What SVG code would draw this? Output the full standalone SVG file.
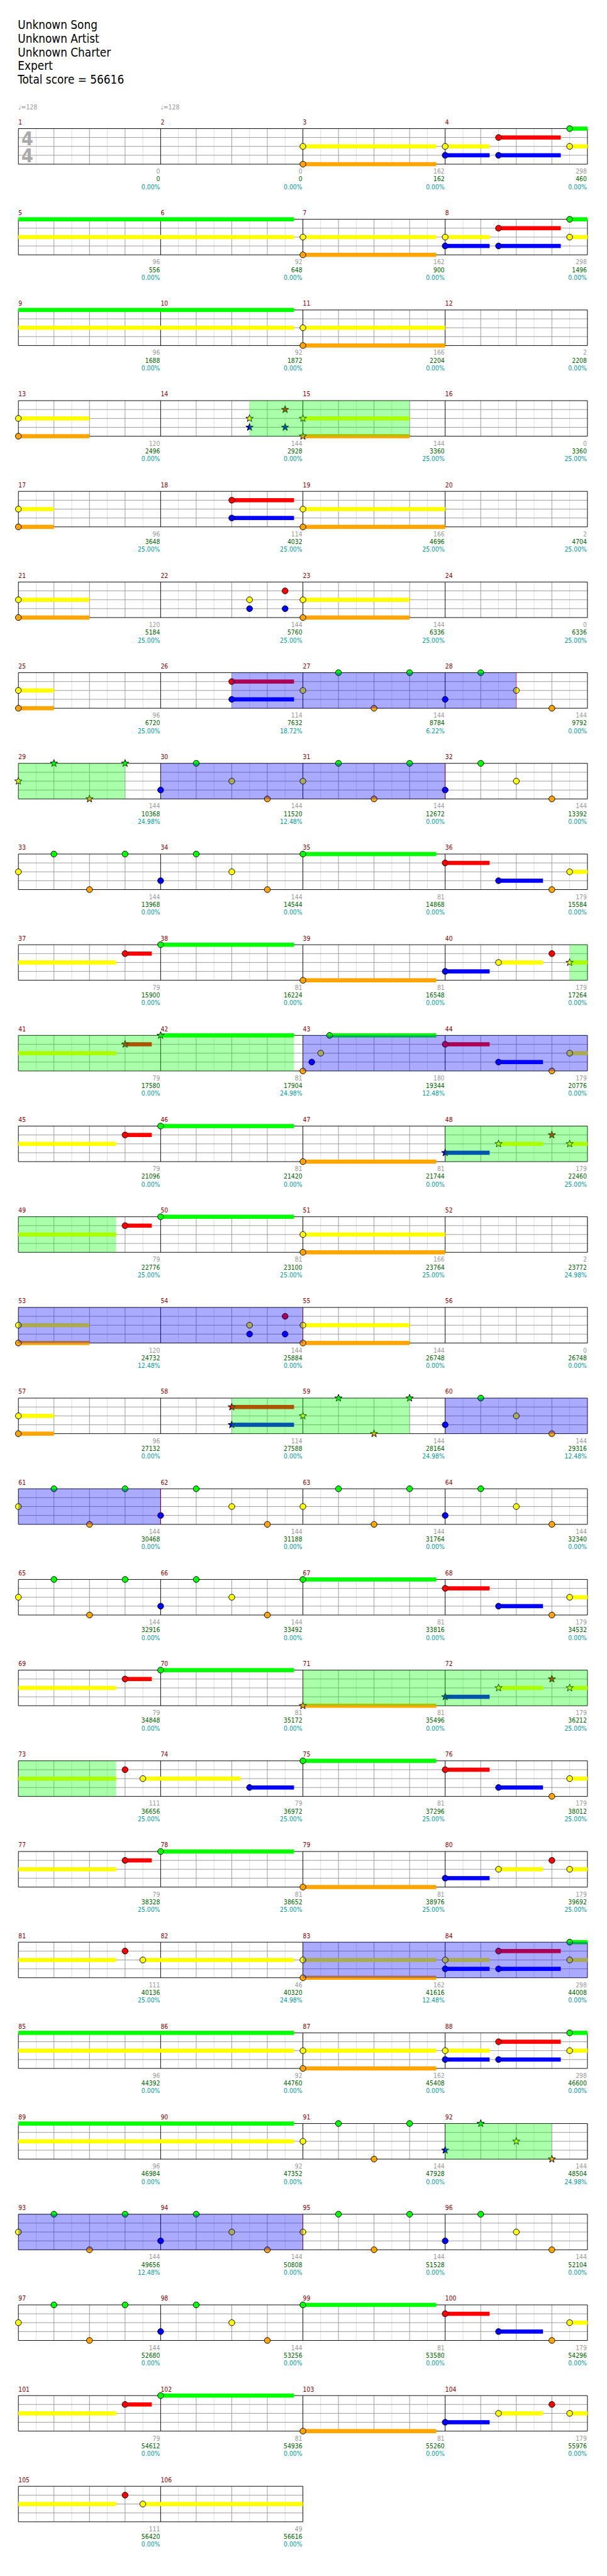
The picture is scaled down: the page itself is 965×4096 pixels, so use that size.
<svg xmlns="http://www.w3.org/2000/svg" width="965" height="4096" viewBox="0 0 965 4096">
<style>
text{font-family:"DejaVu Sans","Noto Sans",sans-serif;font-stretch:condensed}
.h{font-size:20px;fill:#000}
.tp{font-size:11px;fill:#999}
.ts{font-size:32px;font-weight:bold;fill:#aaa}
.mn{font-size:11px;fill:#8b0000}
.a,.b,.c{font-size:11px;text-anchor:end}
.a{fill:#999}.b{fill:#006400}.c{fill:#009999}
.sG{fill:#00ff00}.sR{fill:#ff0000}.sY{fill:#ffff00}.sB{fill:#0000ff}.sO{fill:#ffa500}
.sp{fill:#00ff00;fill-opacity:.333}
.ac{fill:#0000ff;fill-opacity:.333}
.ae{stroke:#ff0000;stroke-opacity:.4;fill:none}
.n{stroke:#000;stroke-width:1}
</style>
<defs>
<circle id="G" class="n" r="5" fill="#00ff00"/>
<circle id="R" class="n" r="5" fill="#ff0000"/>
<circle id="Y" class="n" r="5" fill="#ffff00"/>
<circle id="B" class="n" r="5" fill="#0000ff"/>
<circle id="O" class="n" r="5" fill="#ffa500"/>
<polygon id="xG" class="n" fill="#00ff00" points="0,-6.5 1.53,-2.1 6.18,-2 2.47,0.8 3.82,5.26 0,2.6 -3.82,5.26 -2.47,0.8 -6.18,-2 -1.53,-2.1"/>
<polygon id="xR" class="n" fill="#ff0000" points="0,-6.5 1.53,-2.1 6.18,-2 2.47,0.8 3.82,5.26 0,2.6 -3.82,5.26 -2.47,0.8 -6.18,-2 -1.53,-2.1"/>
<polygon id="xY" class="n" fill="#ffff00" points="0,-6.5 1.53,-2.1 6.18,-2 2.47,0.8 3.82,5.26 0,2.6 -3.82,5.26 -2.47,0.8 -6.18,-2 -1.53,-2.1"/>
<polygon id="xB" class="n" fill="#0000ff" points="0,-6.5 1.53,-2.1 6.18,-2 2.47,0.8 3.82,5.26 0,2.6 -3.82,5.26 -2.47,0.8 -6.18,-2 -1.53,-2.1"/>
<polygon id="xO" class="n" fill="#ffa500" points="0,-6.5 1.53,-2.1 6.18,-2 2.47,0.8 3.82,5.26 0,2.6 -3.82,5.26 -2.47,0.8 -6.18,-2 -1.53,-2.1"/>
<g id="mg" fill="none">
<path d="M30 0V60M90 0V60M150 0V60M210 0V60" stroke="#dddddd"/>
<path d="M60 0V60M120 0V60M180 0V60M0 15H240M0 30H240M0 45H240" stroke="#999999"/>
</g>
<g id="g4">
<use href="#mg"/><use href="#mg" x="240"/><use href="#mg" x="480"/><use href="#mg" x="720"/>
<path d="M0 0V60M240 0V60M480 0V60M720 0V60M960 0V60M0 0H960M0 60H960" stroke="#000" fill="none"/>
</g>
<g id="g2">
<use href="#mg"/><use href="#mg" x="240"/>
<path d="M0 0V60M240 0V60M480 0V60M0 0H480M0 60H480" stroke="#000" fill="none"/>
</g>
<g id="pA"><use href="#Y" y="30"/><use href="#G" x="60"/><use href="#O" x="120" y="60"/><use href="#G" x="180"/></g>
<g id="pB"><use href="#B" y="45"/><use href="#G" x="60"/><use href="#Y" x="120" y="30"/><use href="#O" x="180" y="60"/></g>
<g id="rA">
<rect class="sY" x="0" y="26.5" width="225" height="7"/>
<rect class="sO" x="0" y="56.5" width="225" height="7"/>
<rect class="sY" x="240" y="26.5" width="75" height="7"/>
<rect class="sB" x="240" y="41.5" width="75" height="7"/>
<rect class="sR" x="330" y="11.5" width="105" height="7"/>
<rect class="sB" x="330" y="41.5" width="105" height="7"/>
<rect class="sG" x="450" y="-3.5" width="30" height="7"/>
<rect class="sY" x="450" y="26.5" width="30" height="7"/>
<use href="#Y" y="30"/><use href="#O" y="60"/>
<use href="#Y" x="240" y="30"/><use href="#B" x="240" y="45"/>
<use href="#R" x="330" y="15"/><use href="#B" x="330" y="45"/>
<use href="#G" x="450"/><use href="#Y" x="450" y="30"/>
</g>
<g id="rB">
<rect class="sG" x="0" y="-3.5" width="225" height="7"/>
<rect class="sR" x="240" y="11.5" width="75" height="7"/>
<rect class="sB" x="330" y="41.5" width="75" height="7"/>
<rect class="sY" x="450" y="26.5" width="30" height="7"/>
<use href="#G"/><use href="#R" x="240" y="15"/><use href="#B" x="330" y="45"/><use href="#O" x="420" y="60"/><use href="#Y" x="450" y="30"/>
</g>
<g id="rC">
<rect class="sY" x="0" y="26.5" width="165" height="7"/>
<rect class="sR" x="180" y="11.5" width="45" height="7"/>
<rect class="sG" x="240" y="-3.5" width="225" height="7"/>
<rect class="sO" x="480" y="56.5" width="225" height="7"/>
<rect class="sB" x="720" y="41.5" width="75" height="7"/>
<rect class="sY" x="810" y="26.5" width="75" height="7"/>
<rect class="sY" x="930" y="26.5" width="30" height="7"/>
<use href="#R" x="180" y="15"/><use href="#G" x="240"/><use href="#O" x="480" y="60"/><use href="#B" x="720" y="45"/><use href="#Y" x="810" y="30"/><use href="#R" x="900" y="15"/><use href="#Y" x="930" y="30"/>
</g>
</defs>
<rect width="965" height="4096" fill="#fff"/>
<g transform="scale(0.942383)">
<g id="header">
<text class="h" x="30" y="49">Unknown Song</text>
<text class="h" x="30" y="72">Unknown Artist</text>
<text class="h" x="30" y="95">Unknown Charter</text>
<text class="h" x="30" y="118">Expert</text>
<text class="h" x="30" y="141">Total score = 56616</text>
</g>

<g id="row1" transform="translate(31,217)">
<use href="#g4"/>
<text class="ts" x="5" y="28">4</text><text class="ts" x="5" y="57">4</text>
<use href="#rA" x="480"/>
<text class="tp" x="0" y="-32">♩=128</text><text class="tp" x="240" y="-32">♩=128</text>
<text class="mn" x="0" y="-7">1</text><text class="mn" x="240" y="-7">2</text><text class="mn" x="480" y="-7">3</text><text class="mn" x="720" y="-7">4</text>
<text class="a" x="239" y="76">0</text><text class="b" x="239" y="89">0</text><text class="c" x="239" y="102">0.00%</text>
<text class="a" x="479" y="76">0</text><text class="b" x="479" y="89">0</text><text class="c" x="479" y="102">0.00%</text>
<text class="a" x="719" y="76">162</text><text class="b" x="719" y="89">162</text><text class="c" x="719" y="102">0.00%</text>
<text class="a" x="959" y="76">298</text><text class="b" x="959" y="89">460</text><text class="c" x="959" y="102">0.00%</text>
</g>

<g id="row2" transform="translate(31,370)">
<use href="#g4"/>
<rect class="sG" x="0" y="-3.5" width="465" height="7"/>
<rect class="sY" x="0" y="26.5" width="465" height="7"/>
<use href="#rA" x="480"/>
<text class="mn" x="0" y="-7">5</text><text class="mn" x="240" y="-7">6</text><text class="mn" x="480" y="-7">7</text><text class="mn" x="720" y="-7">8</text>
<text class="a" x="239" y="76">96</text><text class="b" x="239" y="89">556</text><text class="c" x="239" y="102">0.00%</text>
<text class="a" x="479" y="76">92</text><text class="b" x="479" y="89">648</text><text class="c" x="479" y="102">0.00%</text>
<text class="a" x="719" y="76">162</text><text class="b" x="719" y="89">900</text><text class="c" x="719" y="102">0.00%</text>
<text class="a" x="959" y="76">298</text><text class="b" x="959" y="89">1496</text><text class="c" x="959" y="102">0.00%</text>
</g>

<g id="row3" transform="translate(31,523)">
<use href="#g4"/>
<rect class="sG" x="0" y="-3.5" width="465" height="7"/>
<rect class="sY" x="0" y="26.5" width="465" height="7"/>
<rect class="sY" x="480" y="26.5" width="240" height="7"/>
<rect class="sO" x="480" y="56.5" width="240" height="7"/>
<use href="#Y" x="480" y="30"/><use href="#O" x="480" y="60"/>
<text class="mn" x="0" y="-7">9</text><text class="mn" x="240" y="-7">10</text><text class="mn" x="480" y="-7">11</text><text class="mn" x="720" y="-7">12</text>
<text class="a" x="239" y="76">96</text><text class="b" x="239" y="89">1688</text><text class="c" x="239" y="102">0.00%</text>
<text class="a" x="479" y="76">92</text><text class="b" x="479" y="89">1872</text><text class="c" x="479" y="102">0.00%</text>
<text class="a" x="719" y="76">166</text><text class="b" x="719" y="89">2204</text><text class="c" x="719" y="102">0.00%</text>
<text class="a" x="959" y="76">2</text><text class="b" x="959" y="89">2208</text><text class="c" x="959" y="102">0.00%</text>
</g>

<g id="row4" transform="translate(31,676)">
<use href="#g4"/>
<rect class="sY" x="0" y="26.5" width="120" height="7"/>
<rect class="sO" x="0" y="56.5" width="120" height="7"/>
<rect class="sY" x="480" y="26.5" width="180" height="7"/>
<rect class="sO" x="480" y="56.5" width="180" height="7"/>
<use href="#Y" y="30"/><use href="#O" y="60"/>
<use href="#xY" x="390" y="30"/><use href="#xB" x="390" y="45"/><use href="#xR" x="450" y="15"/><use href="#xB" x="450" y="45"/>
<use href="#xY" x="480" y="30"/><use href="#xO" x="480" y="60"/>
<rect class="sp" x="390" y="0" width="270" height="60"/>
<text class="mn" x="0" y="-7">13</text><text class="mn" x="240" y="-7">14</text><text class="mn" x="480" y="-7">15</text><text class="mn" x="720" y="-7">16</text>
<text class="a" x="239" y="76">120</text><text class="b" x="239" y="89">2496</text><text class="c" x="239" y="102">0.00%</text>
<text class="a" x="479" y="76">144</text><text class="b" x="479" y="89">2928</text><text class="c" x="479" y="102">0.00%</text>
<text class="a" x="719" y="76">144</text><text class="b" x="719" y="89">3360</text><text class="c" x="719" y="102">25.00%</text>
<text class="a" x="959" y="76">0</text><text class="b" x="959" y="89">3360</text><text class="c" x="959" y="102">25.00%</text>
</g>

<g id="row5" transform="translate(31,829)">
<use href="#g4"/>
<rect class="sY" x="0" y="26.5" width="60" height="7"/>
<rect class="sO" x="0" y="56.5" width="60" height="7"/>
<rect class="sR" x="360" y="11.5" width="105" height="7"/>
<rect class="sB" x="360" y="41.5" width="105" height="7"/>
<rect class="sY" x="480" y="26.5" width="240" height="7"/>
<rect class="sO" x="480" y="56.5" width="240" height="7"/>
<use href="#Y" y="30"/><use href="#O" y="60"/><use href="#R" x="360" y="15"/><use href="#B" x="360" y="45"/><use href="#Y" x="480" y="30"/><use href="#O" x="480" y="60"/>
<text class="mn" x="0" y="-7">17</text><text class="mn" x="240" y="-7">18</text><text class="mn" x="480" y="-7">19</text><text class="mn" x="720" y="-7">20</text>
<text class="a" x="239" y="76">96</text><text class="b" x="239" y="89">3648</text><text class="c" x="239" y="102">25.00%</text>
<text class="a" x="479" y="76">114</text><text class="b" x="479" y="89">4032</text><text class="c" x="479" y="102">25.00%</text>
<text class="a" x="719" y="76">166</text><text class="b" x="719" y="89">4696</text><text class="c" x="719" y="102">25.00%</text>
<text class="a" x="959" y="76">2</text><text class="b" x="959" y="89">4704</text><text class="c" x="959" y="102">25.00%</text>
</g>

<g id="row6" transform="translate(31,982)">
<use href="#g4"/>
<rect class="sY" x="0" y="26.5" width="120" height="7"/>
<rect class="sO" x="0" y="56.5" width="120" height="7"/>
<rect class="sY" x="480" y="26.5" width="180" height="7"/>
<rect class="sO" x="480" y="56.5" width="180" height="7"/>
<use href="#Y" y="30"/><use href="#O" y="60"/>
<use href="#Y" x="390" y="30"/><use href="#B" x="390" y="45"/><use href="#R" x="450" y="15"/><use href="#B" x="450" y="45"/>
<use href="#Y" x="480" y="30"/><use href="#O" x="480" y="60"/>
<text class="mn" x="0" y="-7">21</text><text class="mn" x="240" y="-7">22</text><text class="mn" x="480" y="-7">23</text><text class="mn" x="720" y="-7">24</text>
<text class="a" x="239" y="76">120</text><text class="b" x="239" y="89">5184</text><text class="c" x="239" y="102">25.00%</text>
<text class="a" x="479" y="76">144</text><text class="b" x="479" y="89">5760</text><text class="c" x="479" y="102">25.00%</text>
<text class="a" x="719" y="76">144</text><text class="b" x="719" y="89">6336</text><text class="c" x="719" y="102">25.00%</text>
<text class="a" x="959" y="76">0</text><text class="b" x="959" y="89">6336</text><text class="c" x="959" y="102">25.00%</text>
</g>

<g id="row7" transform="translate(31,1135)">
<use href="#g4"/>
<rect class="sY" x="0" y="26.5" width="60" height="7"/>
<rect class="sO" x="0" y="56.5" width="60" height="7"/>
<rect class="sR" x="360" y="11.5" width="105" height="7"/>
<rect class="sB" x="360" y="41.5" width="105" height="7"/>
<use href="#Y" y="30"/><use href="#O" y="60"/><use href="#R" x="360" y="15"/><use href="#B" x="360" y="45"/>
<use href="#pA" x="480"/><use href="#pB" x="720"/>
<rect class="ac" x="360" y="0" width="480" height="60"/>
<path class="ae" d="M840 0V60"/>
<text class="mn" x="0" y="-7">25</text><text class="mn" x="240" y="-7">26</text><text class="mn" x="480" y="-7">27</text><text class="mn" x="720" y="-7">28</text>
<text class="a" x="239" y="76">96</text><text class="b" x="239" y="89">6720</text><text class="c" x="239" y="102">25.00%</text>
<text class="a" x="479" y="76">114</text><text class="b" x="479" y="89">7632</text><text class="c" x="479" y="102">18.72%</text>
<text class="a" x="719" y="76">144</text><text class="b" x="719" y="89">8784</text><text class="c" x="719" y="102">6.22%</text>
<text class="a" x="959" y="76">144</text><text class="b" x="959" y="89">9792</text><text class="c" x="959" y="102">0.00%</text>
</g>

<g id="row8" transform="translate(31,1288)">
<use href="#g4"/>
<use href="#xY" y="30"/><use href="#xG" x="60"/><use href="#xO" x="120" y="60"/><use href="#xG" x="180"/>
<use href="#pB" x="240"/><use href="#pA" x="480"/><use href="#pB" x="720"/>
<rect class="sp" x="0" y="0" width="180" height="60"/>
<rect class="ac" x="240" y="0" width="480" height="60"/>
<path class="ae" d="M720 0V60"/>
<text class="mn" x="0" y="-7">29</text><text class="mn" x="240" y="-7">30</text><text class="mn" x="480" y="-7">31</text><text class="mn" x="720" y="-7">32</text>
<text class="a" x="239" y="76">144</text><text class="b" x="239" y="89">10368</text><text class="c" x="239" y="102">24.98%</text>
<text class="a" x="479" y="76">144</text><text class="b" x="479" y="89">11520</text><text class="c" x="479" y="102">12.48%</text>
<text class="a" x="719" y="76">144</text><text class="b" x="719" y="89">12672</text><text class="c" x="719" y="102">0.00%</text>
<text class="a" x="959" y="76">144</text><text class="b" x="959" y="89">13392</text><text class="c" x="959" y="102">0.00%</text>
</g>

<g id="row9" transform="translate(31,1441)">
<use href="#g4"/>
<use href="#pA"/><use href="#pB" x="240"/><use href="#rB" x="480"/>
<text class="mn" x="0" y="-7">33</text><text class="mn" x="240" y="-7">34</text><text class="mn" x="480" y="-7">35</text><text class="mn" x="720" y="-7">36</text>
<text class="a" x="239" y="76">144</text><text class="b" x="239" y="89">13968</text><text class="c" x="239" y="102">0.00%</text>
<text class="a" x="479" y="76">144</text><text class="b" x="479" y="89">14544</text><text class="c" x="479" y="102">0.00%</text>
<text class="a" x="719" y="76">81</text><text class="b" x="719" y="89">14868</text><text class="c" x="719" y="102">0.00%</text>
<text class="a" x="959" y="76">179</text><text class="b" x="959" y="89">15584</text><text class="c" x="959" y="102">0.00%</text>
</g>

<g id="row10" transform="translate(31,1594)">
<use href="#g4"/>
<rect class="sY" x="0" y="26.5" width="165" height="7"/>
<rect class="sR" x="180" y="11.5" width="45" height="7"/>
<rect class="sG" x="240" y="-3.5" width="225" height="7"/>
<rect class="sO" x="480" y="56.5" width="225" height="7"/>
<rect class="sB" x="720" y="41.5" width="75" height="7"/>
<rect class="sY" x="810" y="26.5" width="75" height="7"/>
<rect class="sY" x="930" y="26.5" width="30" height="7"/>
<use href="#R" x="180" y="15"/><use href="#G" x="240"/><use href="#O" x="480" y="60"/><use href="#B" x="720" y="45"/><use href="#Y" x="810" y="30"/><use href="#R" x="900" y="15"/><use href="#xY" x="930" y="30"/>
<rect class="sp" x="930" y="0" width="30" height="60"/>
<text class="mn" x="0" y="-7">37</text><text class="mn" x="240" y="-7">38</text><text class="mn" x="480" y="-7">39</text><text class="mn" x="720" y="-7">40</text>
<text class="a" x="239" y="76">79</text><text class="b" x="239" y="89">15900</text><text class="c" x="239" y="102">0.00%</text>
<text class="a" x="479" y="76">81</text><text class="b" x="479" y="89">16224</text><text class="c" x="479" y="102">0.00%</text>
<text class="a" x="719" y="76">81</text><text class="b" x="719" y="89">16548</text><text class="c" x="719" y="102">0.00%</text>
<text class="a" x="959" y="76">179</text><text class="b" x="959" y="89">17264</text><text class="c" x="959" y="102">0.00%</text>
</g>

<g id="row11" transform="translate(31,1747)">
<use href="#g4"/>
<rect class="sY" x="0" y="26.5" width="165" height="7"/>
<rect class="sR" x="180" y="11.5" width="45" height="7"/>
<rect class="sG" x="240" y="-3.5" width="225" height="7"/>
<rect class="sG" x="525" y="-3.5" width="180" height="7"/>
<rect class="sR" x="720" y="11.5" width="75" height="7"/>
<rect class="sB" x="810" y="41.5" width="75" height="7"/>
<rect class="sY" x="930" y="26.5" width="30" height="7"/>
<use href="#xR" x="180" y="15"/><use href="#xG" x="240"/>
<use href="#O" x="480" y="60"/><use href="#B" x="495" y="45"/><use href="#Y" x="510" y="30"/><use href="#G" x="525"/>
<use href="#R" x="720" y="15"/><use href="#B" x="810" y="45"/><use href="#O" x="900" y="60"/><use href="#Y" x="930" y="30"/>
<rect class="sp" x="0" y="0" width="465" height="60"/>
<rect class="ac" x="480" y="0" width="480" height="60"/>
<text class="mn" x="0" y="-7">41</text><text class="mn" x="240" y="-7">42</text><text class="mn" x="480" y="-7">43</text><text class="mn" x="720" y="-7">44</text>
<text class="a" x="239" y="76">79</text><text class="b" x="239" y="89">17580</text><text class="c" x="239" y="102">0.00%</text>
<text class="a" x="479" y="76">81</text><text class="b" x="479" y="89">17904</text><text class="c" x="479" y="102">24.98%</text>
<text class="a" x="719" y="76">180</text><text class="b" x="719" y="89">19344</text><text class="c" x="719" y="102">12.48%</text>
<text class="a" x="959" y="76">179</text><text class="b" x="959" y="89">20776</text><text class="c" x="959" y="102">0.00%</text>
</g>

<g id="row12" transform="translate(31,1900)">
<use href="#g4"/>
<rect class="sY" x="0" y="26.5" width="165" height="7"/>
<rect class="sR" x="180" y="11.5" width="45" height="7"/>
<rect class="sG" x="240" y="-3.5" width="225" height="7"/>
<rect class="sO" x="480" y="56.5" width="225" height="7"/>
<rect class="sB" x="720" y="41.5" width="75" height="7"/>
<rect class="sY" x="810" y="26.5" width="75" height="7"/>
<rect class="sY" x="930" y="26.5" width="30" height="7"/>
<use href="#R" x="180" y="15"/><use href="#G" x="240"/><use href="#O" x="480" y="60"/>
<use href="#xB" x="720" y="45"/><use href="#xY" x="810" y="30"/><use href="#xR" x="900" y="15"/><use href="#xY" x="930" y="30"/>
<rect class="sp" x="720" y="0" width="240" height="60"/>
<text class="mn" x="0" y="-7">45</text><text class="mn" x="240" y="-7">46</text><text class="mn" x="480" y="-7">47</text><text class="mn" x="720" y="-7">48</text>
<text class="a" x="239" y="76">79</text><text class="b" x="239" y="89">21096</text><text class="c" x="239" y="102">0.00%</text>
<text class="a" x="479" y="76">81</text><text class="b" x="479" y="89">21420</text><text class="c" x="479" y="102">0.00%</text>
<text class="a" x="719" y="76">81</text><text class="b" x="719" y="89">21744</text><text class="c" x="719" y="102">0.00%</text>
<text class="a" x="959" y="76">179</text><text class="b" x="959" y="89">22460</text><text class="c" x="959" y="102">25.00%</text>
</g>

<g id="row13" transform="translate(31,2053)">
<use href="#g4"/>
<rect class="sY" x="0" y="26.5" width="165" height="7"/>
<rect class="sR" x="180" y="11.5" width="45" height="7"/>
<rect class="sG" x="240" y="-3.5" width="225" height="7"/>
<rect class="sY" x="480" y="26.5" width="240" height="7"/>
<rect class="sO" x="480" y="56.5" width="240" height="7"/>
<use href="#R" x="180" y="15"/><use href="#G" x="240"/><use href="#Y" x="480" y="30"/><use href="#O" x="480" y="60"/>
<rect class="sp" x="0" y="0" width="165" height="60"/>
<rect class="ac" x="959.5" y="0" width="1" height="60"/>
<text class="mn" x="0" y="-7">49</text><text class="mn" x="240" y="-7">50</text><text class="mn" x="480" y="-7">51</text><text class="mn" x="720" y="-7">52</text>
<text class="a" x="239" y="76">79</text><text class="b" x="239" y="89">22776</text><text class="c" x="239" y="102">25.00%</text>
<text class="a" x="479" y="76">81</text><text class="b" x="479" y="89">23100</text><text class="c" x="479" y="102">25.00%</text>
<text class="a" x="719" y="76">166</text><text class="b" x="719" y="89">23764</text><text class="c" x="719" y="102">25.00%</text>
<text class="a" x="959" y="76">2</text><text class="b" x="959" y="89">23772</text><text class="c" x="959" y="102">24.98%</text>
</g>

<g id="row14" transform="translate(31,2206)">
<use href="#g4"/>
<rect class="sY" x="0" y="26.5" width="120" height="7"/>
<rect class="sO" x="0" y="56.5" width="120" height="7"/>
<rect class="sY" x="480" y="26.5" width="180" height="7"/>
<rect class="sO" x="480" y="56.5" width="180" height="7"/>
<use href="#Y" y="30"/><use href="#O" y="60"/>
<use href="#Y" x="390" y="30"/><use href="#B" x="390" y="45"/><use href="#R" x="450" y="15"/><use href="#B" x="450" y="45"/>
<use href="#Y" x="480" y="30"/><use href="#O" x="480" y="60"/>
<rect class="ac" x="0" y="0" width="480" height="60"/>
<path class="ae" d="M480 0V60"/>
<text class="mn" x="0" y="-7">53</text><text class="mn" x="240" y="-7">54</text><text class="mn" x="480" y="-7">55</text><text class="mn" x="720" y="-7">56</text>
<text class="a" x="239" y="76">120</text><text class="b" x="239" y="89">24732</text><text class="c" x="239" y="102">12.48%</text>
<text class="a" x="479" y="76">144</text><text class="b" x="479" y="89">25884</text><text class="c" x="479" y="102">0.00%</text>
<text class="a" x="719" y="76">144</text><text class="b" x="719" y="89">26748</text><text class="c" x="719" y="102">0.00%</text>
<text class="a" x="959" y="76">0</text><text class="b" x="959" y="89">26748</text><text class="c" x="959" y="102">0.00%</text>
</g>

<g id="row15" transform="translate(31,2359)">
<use href="#g4"/>
<rect class="sY" x="0" y="26.5" width="60" height="7"/>
<rect class="sO" x="0" y="56.5" width="60" height="7"/>
<rect class="sR" x="360" y="11.5" width="105" height="7"/>
<rect class="sB" x="360" y="41.5" width="105" height="7"/>
<use href="#Y" y="30"/><use href="#O" y="60"/>
<use href="#xR" x="360" y="15"/><use href="#xB" x="360" y="45"/>
<use href="#xY" x="480" y="30"/><use href="#xG" x="540"/><use href="#xO" x="600" y="60"/><use href="#xG" x="660"/>
<use href="#pB" x="720"/>
<rect class="sp" x="360" y="0" width="300" height="60"/>
<rect class="ac" x="720" y="0" width="240" height="60"/>
<text class="mn" x="0" y="-7">57</text><text class="mn" x="240" y="-7">58</text><text class="mn" x="480" y="-7">59</text><text class="mn" x="720" y="-7">60</text>
<text class="a" x="239" y="76">96</text><text class="b" x="239" y="89">27132</text><text class="c" x="239" y="102">0.00%</text>
<text class="a" x="479" y="76">114</text><text class="b" x="479" y="89">27588</text><text class="c" x="479" y="102">0.00%</text>
<text class="a" x="719" y="76">144</text><text class="b" x="719" y="89">28164</text><text class="c" x="719" y="102">24.98%</text>
<text class="a" x="959" y="76">144</text><text class="b" x="959" y="89">29316</text><text class="c" x="959" y="102">12.48%</text>
</g>

<g id="row16" transform="translate(31,2512)">
<use href="#g4"/>
<use href="#pA"/><use href="#pB" x="240"/><use href="#pA" x="480"/><use href="#pB" x="720"/>
<rect class="ac" x="0" y="0" width="240" height="60"/>
<path class="ae" d="M240 0V60"/>
<text class="mn" x="0" y="-7">61</text><text class="mn" x="240" y="-7">62</text><text class="mn" x="480" y="-7">63</text><text class="mn" x="720" y="-7">64</text>
<text class="a" x="239" y="76">144</text><text class="b" x="239" y="89">30468</text><text class="c" x="239" y="102">0.00%</text>
<text class="a" x="479" y="76">144</text><text class="b" x="479" y="89">31188</text><text class="c" x="479" y="102">0.00%</text>
<text class="a" x="719" y="76">144</text><text class="b" x="719" y="89">31764</text><text class="c" x="719" y="102">0.00%</text>
<text class="a" x="959" y="76">144</text><text class="b" x="959" y="89">32340</text><text class="c" x="959" y="102">0.00%</text>
</g>

<g id="row17" transform="translate(31,2665)">
<use href="#g4"/>
<use href="#pA"/><use href="#pB" x="240"/><use href="#rB" x="480"/>
<text class="mn" x="0" y="-7">65</text><text class="mn" x="240" y="-7">66</text><text class="mn" x="480" y="-7">67</text><text class="mn" x="720" y="-7">68</text>
<text class="a" x="239" y="76">144</text><text class="b" x="239" y="89">32916</text><text class="c" x="239" y="102">0.00%</text>
<text class="a" x="479" y="76">144</text><text class="b" x="479" y="89">33492</text><text class="c" x="479" y="102">0.00%</text>
<text class="a" x="719" y="76">81</text><text class="b" x="719" y="89">33816</text><text class="c" x="719" y="102">0.00%</text>
<text class="a" x="959" y="76">179</text><text class="b" x="959" y="89">34532</text><text class="c" x="959" y="102">0.00%</text>
</g>

<g id="row18" transform="translate(31,2818)">
<use href="#g4"/>
<rect class="sY" x="0" y="26.5" width="165" height="7"/>
<rect class="sR" x="180" y="11.5" width="45" height="7"/>
<rect class="sG" x="240" y="-3.5" width="225" height="7"/>
<rect class="sO" x="480" y="56.5" width="225" height="7"/>
<rect class="sB" x="720" y="41.5" width="75" height="7"/>
<rect class="sY" x="810" y="26.5" width="75" height="7"/>
<rect class="sY" x="930" y="26.5" width="30" height="7"/>
<use href="#R" x="180" y="15"/><use href="#G" x="240"/><use href="#xO" x="480" y="60"/>
<use href="#xB" x="720" y="45"/><use href="#xY" x="810" y="30"/><use href="#xR" x="900" y="15"/><use href="#xY" x="930" y="30"/>
<rect class="sp" x="480" y="0" width="480" height="60"/>
<text class="mn" x="0" y="-7">69</text><text class="mn" x="240" y="-7">70</text><text class="mn" x="480" y="-7">71</text><text class="mn" x="720" y="-7">72</text>
<text class="a" x="239" y="76">79</text><text class="b" x="239" y="89">34848</text><text class="c" x="239" y="102">0.00%</text>
<text class="a" x="479" y="76">81</text><text class="b" x="479" y="89">35172</text><text class="c" x="479" y="102">0.00%</text>
<text class="a" x="719" y="76">81</text><text class="b" x="719" y="89">35496</text><text class="c" x="719" y="102">0.00%</text>
<text class="a" x="959" y="76">179</text><text class="b" x="959" y="89">36212</text><text class="c" x="959" y="102">25.00%</text>
</g>

<g id="row19" transform="translate(31,2971)">
<use href="#g4"/>
<rect class="sY" x="0" y="26.5" width="165" height="7"/>
<rect class="sY" x="210" y="26.5" width="165" height="7"/>
<rect class="sB" x="390" y="41.5" width="75" height="7"/>
<use href="#R" x="180" y="15"/><use href="#Y" x="210" y="30"/><use href="#B" x="390" y="45"/>
<use href="#rB" x="480"/>
<rect class="sp" x="0" y="0" width="165" height="60"/>
<text class="mn" x="0" y="-7">73</text><text class="mn" x="240" y="-7">74</text><text class="mn" x="480" y="-7">75</text><text class="mn" x="720" y="-7">76</text>
<text class="a" x="239" y="76">111</text><text class="b" x="239" y="89">36656</text><text class="c" x="239" y="102">25.00%</text>
<text class="a" x="479" y="76">79</text><text class="b" x="479" y="89">36972</text><text class="c" x="479" y="102">25.00%</text>
<text class="a" x="719" y="76">81</text><text class="b" x="719" y="89">37296</text><text class="c" x="719" y="102">25.00%</text>
<text class="a" x="959" y="76">179</text><text class="b" x="959" y="89">38012</text><text class="c" x="959" y="102">25.00%</text>
</g>

<g id="row20" transform="translate(31,3124)">
<use href="#g4"/>
<use href="#rC"/>
<text class="mn" x="0" y="-7">77</text><text class="mn" x="240" y="-7">78</text><text class="mn" x="480" y="-7">79</text><text class="mn" x="720" y="-7">80</text>
<text class="a" x="239" y="76">79</text><text class="b" x="239" y="89">38328</text><text class="c" x="239" y="102">25.00%</text>
<text class="a" x="479" y="76">81</text><text class="b" x="479" y="89">38652</text><text class="c" x="479" y="102">25.00%</text>
<text class="a" x="719" y="76">81</text><text class="b" x="719" y="89">38976</text><text class="c" x="719" y="102">25.00%</text>
<text class="a" x="959" y="76">179</text><text class="b" x="959" y="89">39692</text><text class="c" x="959" y="102">25.00%</text>
</g>

<g id="row21" transform="translate(31,3277)">
<use href="#g4"/>
<rect class="sY" x="0" y="26.5" width="165" height="7"/>
<rect class="sY" x="210" y="26.5" width="255" height="7"/>
<use href="#R" x="180" y="15"/><use href="#Y" x="210" y="30"/>
<use href="#rA" x="480"/>
<rect class="ac" x="480" y="0" width="480" height="60"/>
<text class="mn" x="0" y="-7">81</text><text class="mn" x="240" y="-7">82</text><text class="mn" x="480" y="-7">83</text><text class="mn" x="720" y="-7">84</text>
<text class="a" x="239" y="76">111</text><text class="b" x="239" y="89">40136</text><text class="c" x="239" y="102">25.00%</text>
<text class="a" x="479" y="76">46</text><text class="b" x="479" y="89">40320</text><text class="c" x="479" y="102">24.98%</text>
<text class="a" x="719" y="76">162</text><text class="b" x="719" y="89">41616</text><text class="c" x="719" y="102">12.48%</text>
<text class="a" x="959" y="76">298</text><text class="b" x="959" y="89">44008</text><text class="c" x="959" y="102">0.00%</text>
</g>

<g id="row22" transform="translate(31,3430)">
<use href="#g4"/>
<rect class="sG" x="0" y="-3.5" width="465" height="7"/>
<rect class="sY" x="0" y="26.5" width="465" height="7"/>
<use href="#rA" x="480"/>
<text class="mn" x="0" y="-7">85</text><text class="mn" x="240" y="-7">86</text><text class="mn" x="480" y="-7">87</text><text class="mn" x="720" y="-7">88</text>
<text class="a" x="239" y="76">96</text><text class="b" x="239" y="89">44392</text><text class="c" x="239" y="102">0.00%</text>
<text class="a" x="479" y="76">92</text><text class="b" x="479" y="89">44760</text><text class="c" x="479" y="102">0.00%</text>
<text class="a" x="719" y="76">162</text><text class="b" x="719" y="89">45408</text><text class="c" x="719" y="102">0.00%</text>
<text class="a" x="959" y="76">298</text><text class="b" x="959" y="89">46600</text><text class="c" x="959" y="102">0.00%</text>
</g>

<g id="row23" transform="translate(31,3583)">
<use href="#g4"/>
<rect class="sG" x="0" y="-3.5" width="465" height="7"/>
<rect class="sY" x="0" y="26.5" width="465" height="7"/>
<use href="#pA" x="480"/>
<use href="#xB" x="720" y="45"/><use href="#xG" x="780"/><use href="#xY" x="840" y="30"/><use href="#xO" x="900" y="60"/>
<rect class="sp" x="720" y="0" width="180" height="60"/>
<rect class="ac" x="959.5" y="0" width="1" height="60"/>
<text class="mn" x="0" y="-7">89</text><text class="mn" x="240" y="-7">90</text><text class="mn" x="480" y="-7">91</text><text class="mn" x="720" y="-7">92</text>
<text class="a" x="239" y="76">96</text><text class="b" x="239" y="89">46984</text><text class="c" x="239" y="102">0.00%</text>
<text class="a" x="479" y="76">92</text><text class="b" x="479" y="89">47352</text><text class="c" x="479" y="102">0.00%</text>
<text class="a" x="719" y="76">144</text><text class="b" x="719" y="89">47928</text><text class="c" x="719" y="102">0.00%</text>
<text class="a" x="959" y="76">144</text><text class="b" x="959" y="89">48504</text><text class="c" x="959" y="102">24.98%</text>
</g>

<g id="row24" transform="translate(31,3736)">
<use href="#g4"/>
<use href="#pA"/><use href="#pB" x="240"/><use href="#pA" x="480"/><use href="#pB" x="720"/>
<rect class="ac" x="0" y="0" width="480" height="60"/>
<path class="ae" d="M480 0V60"/>
<text class="mn" x="0" y="-7">93</text><text class="mn" x="240" y="-7">94</text><text class="mn" x="480" y="-7">95</text><text class="mn" x="720" y="-7">96</text>
<text class="a" x="239" y="76">144</text><text class="b" x="239" y="89">49656</text><text class="c" x="239" y="102">12.48%</text>
<text class="a" x="479" y="76">144</text><text class="b" x="479" y="89">50808</text><text class="c" x="479" y="102">0.00%</text>
<text class="a" x="719" y="76">144</text><text class="b" x="719" y="89">51528</text><text class="c" x="719" y="102">0.00%</text>
<text class="a" x="959" y="76">144</text><text class="b" x="959" y="89">52104</text><text class="c" x="959" y="102">0.00%</text>
</g>

<g id="row25" transform="translate(31,3889)">
<use href="#g4"/>
<use href="#pA"/><use href="#pB" x="240"/><use href="#rB" x="480"/>
<text class="mn" x="0" y="-7">97</text><text class="mn" x="240" y="-7">98</text><text class="mn" x="480" y="-7">99</text><text class="mn" x="720" y="-7">100</text>
<text class="a" x="239" y="76">144</text><text class="b" x="239" y="89">52680</text><text class="c" x="239" y="102">0.00%</text>
<text class="a" x="479" y="76">144</text><text class="b" x="479" y="89">53256</text><text class="c" x="479" y="102">0.00%</text>
<text class="a" x="719" y="76">81</text><text class="b" x="719" y="89">53580</text><text class="c" x="719" y="102">0.00%</text>
<text class="a" x="959" y="76">179</text><text class="b" x="959" y="89">54296</text><text class="c" x="959" y="102">0.00%</text>
</g>

<g id="row26" transform="translate(31,4042)">
<use href="#g4"/>
<use href="#rC"/>
<text class="mn" x="0" y="-7">101</text><text class="mn" x="240" y="-7">102</text><text class="mn" x="480" y="-7">103</text><text class="mn" x="720" y="-7">104</text>
<text class="a" x="239" y="76">79</text><text class="b" x="239" y="89">54612</text><text class="c" x="239" y="102">0.00%</text>
<text class="a" x="479" y="76">81</text><text class="b" x="479" y="89">54936</text><text class="c" x="479" y="102">0.00%</text>
<text class="a" x="719" y="76">81</text><text class="b" x="719" y="89">55260</text><text class="c" x="719" y="102">0.00%</text>
<text class="a" x="959" y="76">179</text><text class="b" x="959" y="89">55976</text><text class="c" x="959" y="102">0.00%</text>
</g>

<g id="row27" transform="translate(31,4195)">
<use href="#g2"/>
<rect class="sY" x="0" y="26.5" width="165" height="7"/>
<rect class="sY" x="210" y="26.5" width="270" height="7"/>
<use href="#R" x="180" y="15"/><use href="#Y" x="210" y="30"/>
<text class="mn" x="0" y="-7">105</text><text class="mn" x="240" y="-7">106</text>
<text class="a" x="239" y="76">111</text><text class="b" x="239" y="89">56420</text><text class="c" x="239" y="102">0.00%</text>
<text class="a" x="479" y="76">49</text><text class="b" x="479" y="89">56616</text><text class="c" x="479" y="102">0.00%</text>
</g>
</g>
</svg>
